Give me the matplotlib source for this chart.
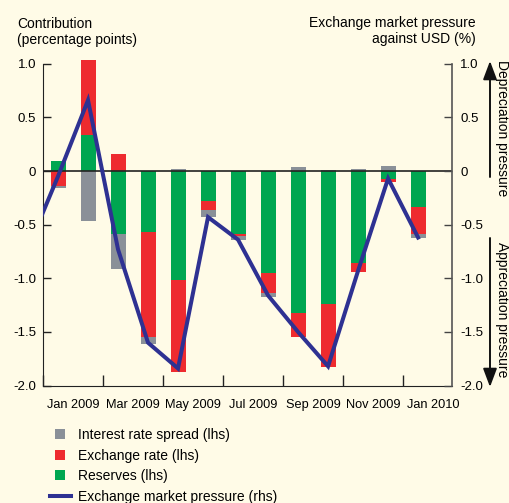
import matplotlib
matplotlib.use("Agg")
import matplotlib.pyplot as plt
from matplotlib.lines import Line2D
from matplotlib.patches import FancyArrowPatch
import numpy as np

plt.rcParams['font.family'] = ['Liberation Sans', 'DejaVu Sans']

# ---- data ----
months = ["Jan 2009", "Feb 2009", "Mar 2009", "Apr 2009", "May 2009", "Jun 2009",
          "Jul 2009", "Aug 2009", "Sep 2009", "Oct 2009", "Nov 2009", "Dec 2009", "Jan 2010"]
interest_spread = [-0.02, -0.47, -0.32, -0.06, 0.02, -0.07, -0.03, -0.03, 0.04, 0.01, 0.02, 0.05, -0.03]
exchange_rate   = [-0.14, 0.69, 0.16, -0.98, -0.85, -0.08, -0.02, -0.19, -0.23, -0.59, -0.08, -0.03, -0.25]
reserves        = [0.09, 0.34, -0.59, -0.57, -1.02, -0.28, -0.59, -0.95, -1.32, -1.24, -0.86, -0.07, -0.34]
# exchange market pressure (rhs), Dec 2008 .. Jan 2010
emp_months = ["Dec 2008"] + months
emp        = [-0.72, -0.05, 0.66, -0.73, -1.60, -1.84, -0.43, -0.64, -1.16, -1.50, -1.82, -0.93, -0.07, -0.62]
tick_labels = ["Jan 2009", "Mar 2009", "May 2009", "Jul 2009", "Sep 2009", "Nov 2009", "Jan 2010"]
yticks = [1.0, 0.5, 0.0, -0.5, -1.0, -1.5, -2.0]
ytick_text = ["1.0", "0.5", "0", "-0.5", "-1.0", "-1.5", "-2.0"]

BG = '#FFFBE7'
GRAY = '#8A9098'
RED = '#EE2B2F'
GREEN = '#00A651'
BLUE = '#2E3192'

W, H = 509, 503
fig = plt.figure(figsize=(W / 100, H / 100), dpi=100, facecolor=BG)
ax = fig.add_axes([43 / W, 1 - 385.6 / H, 409 / W, (385.6 - 63.7) / H])
ax.set_facecolor(BG)

x = np.arange(len(months)) + 0.5
series = [(reserves, GREEN), (exchange_rate, RED), (interest_spread, GRAY)]
pos_base = np.zeros(len(months))
neg_base = np.zeros(len(months))
for vals, col in series:
    v = np.array(vals)
    base = np.where(v >= 0, pos_base, neg_base)
    bars = ax.bar(x, v, width=0.5, bottom=base, color=col, linewidth=0, zorder=2)
    for b in bars:
        b.set_clip_on(False)
    pos_base = pos_base + np.where(v >= 0, v, 0)
    neg_base = neg_base + np.where(v < 0, v, 0)

ax.axhline(0, color='#222222', lw=1.2, zorder=3)

ax.set_xlim(0, 13.63)
ax.set_ylim(-2, 1)
ax.set_yticks(yticks)
ax.set_yticklabels(ytick_text, fontsize=9.5)
ax.set_xticks(np.arange(0, 13, 2))
ax.set_xticklabels([])
ax.set_xticks(np.arange(0, 13, 2) + 1, minor=True)
ax.set_xticklabels(tick_labels, minor=True, fontsize=9.2)
ax.tick_params(axis='x', which='major', direction='in', length=8, width=1, color='#222222')
ax.tick_params(axis='x', which='minor', length=0, pad=10)
ax.tick_params(axis='y', direction='in', length=6, width=1, color='#222222', pad=5)
ax.spines['top'].set_visible(False)
ax.spines['right'].set_visible(False)
ax.spines['left'].set_color('#222222')
ax.spines['bottom'].set_color('#222222')

ax2 = ax.twinx()
ax2.set_ylim(-2, 1)
ax2.set_yticks(yticks)
ax2.set_yticklabels(ytick_text, fontsize=9.5)
ax2.tick_params(axis='y', direction='in', length=6, width=1, color='#444444', pad=6)
ax2.spines['top'].set_visible(False)
ax2.spines['left'].set_visible(False)
ax2.spines['bottom'].set_visible(False)
ax2.spines['right'].set_color('#555555')
ax2.spines['right'].set_linewidth(1.2)
x_emp = np.arange(len(emp_months)) - 0.5
line, = ax2.plot(x_emp, emp, color=BLUE, lw=2.9, zorder=5, solid_joinstyle='miter',
                 label='Exchange market pressure (rhs)')
ax2.set_xlim(0, 13.63)

# titles
fig.text(17 / W, 1 - 28 / H, "Contribution", fontsize=10, va='baseline', ha='left')
fig.text(17 / W, 1 - 44 / H, "(percentage points)", fontsize=10, va='baseline', ha='left')
fig.text(476 / W, 1 - 27 / H, "Exchange market pressure", fontsize=10, va='baseline', ha='right')
fig.text(476 / W, 1 - 43 / H, "against USD (%)", fontsize=10, va='baseline', ha='right')

# pressure annotations
fig.text(502 / W, 1 - 128 / H, "Depreciation pressure", fontsize=10, rotation=-90,
         va='center', ha='center')
fig.text(502 / W, 1 - 310 / H, "Appreciation pressure", fontsize=10, rotation=-90,
         va='center', ha='center')
for y0, y1 in [(177, 61), (238, 387)]:
    arr = FancyArrowPatch((490 / W, 1 - y0 / H), (490 / W, 1 - y1 / H),
                          transform=fig.transFigure,
                          arrowstyle='-|>,head_length=0.8,head_width=0.3',
                          mutation_scale=14, color='#111111', lw=1.4, shrinkA=0, shrinkB=0)
    fig.add_artist(arr)

# legend
handles = [Line2D([], [], marker='s', ms=7.2, ls='none', color=GRAY, markeredgewidth=0),
           Line2D([], [], marker='s', ms=7.2, ls='none', color=RED, markeredgewidth=0),
           Line2D([], [], marker='s', ms=7.2, ls='none', color=GREEN, markeredgewidth=0),
           line]
labels = ["Interest rate spread (lhs)", "Exchange rate (lhs)", "Reserves (lhs)",
          "Exchange market pressure (rhs)"]
fig.legend(handles, labels, loc='upper left', bbox_to_anchor=(50 / W, 1 - 428 / H),
           frameon=False, fontsize=10, handlelength=1.5, handletextpad=0.5,
           labelspacing=0.47, borderpad=0, borderaxespad=0)

fig.savefig("out.png", dpi=100, facecolor=BG)
